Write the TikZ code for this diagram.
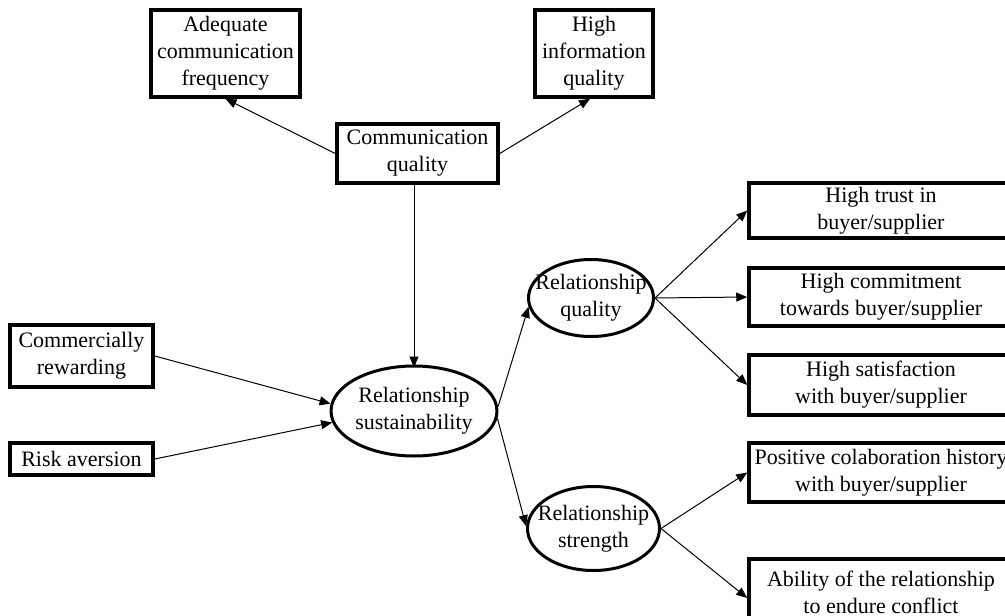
\documentclass[tikz,border=0pt]{standalone}
\usepackage{fontspec}
\setmainfont{Liberation Serif}
\usetikzlibrary{arrows.meta,shapes.geometric}
\begin{document}
\begin{tikzpicture}[x=1pt,y=-1pt,
  every node/.style={font=\fontsize{22}{27}\selectfont, align=center, inner sep=0pt},
  box/.style={draw, line width=3.5pt, rectangle},
  oval/.style={draw, line width=3pt, ellipse},
  arr/.style={line width=1pt, -{Triangle[length=11pt,width=9pt]}}]
\useasboundingbox (0,0) rectangle (1005,616);
\clip (0,0) rectangle (1005,616);
% boxes
\node[box, minimum width=149pt, minimum height=87pt] (adeq) at (225.5,53.5) {Adequate\\communication\\frequency};
\node[box, minimum width=118pt, minimum height=87pt] (hinfo) at (594,53.5) {High\\information\\quality};
\node[box, minimum width=161pt, minimum height=59pt] (cq) at (417.5,153.5) {Communication\\quality};
\node[box, minimum width=143pt, minimum height=62pt] (cr) at (81.5,356) {Commercially\\rewarding};
\node[box, minimum width=143pt, minimum height=32pt] (ra) at (81.5,459) {Risk aversion};
\node[box, minimum width=264pt, minimum height=55pt] (trust) at (881,210.5) {High trust in\\buyer/supplier};
\node[box, minimum width=264pt, minimum height=58pt] (commit) at (881,297) {High commitment\\towards buyer/supplier};
\node[box, minimum width=264pt, minimum height=60pt] (satis) at (881,385) {High satisfaction\\with buyer/supplier};
\node[box, minimum width=264pt, minimum height=59pt] (posit) at (881,472.5) {Positive colaboration history\\with buyer/supplier};
\node[box, minimum width=264pt, minimum height=66pt] (abil) at (881,592) {Ability of the relationship\\to endure conflict};
% ellipses
\node[oval, minimum width=156pt, minimum height=90pt] (rs) at (414,411) {Relationship\\sustainability};
\node[oval, minimum width=125pt, minimum height=77pt] (rq) at (591,298) {};
\node at (rq.center) {Relationship\\quality};
\node[oval, minimum width=132pt, minimum height=84pt] (rst) at (593.5,528.5) {};
\node at (rst.center) {Relationship\\strength};
% connectors
\draw[arr] (cq.west) -- (adeq.south);
\draw[arr] (cq.east) -- ([xshift=-4pt]hinfo.south);
\draw[arr] (rs.north |- cq.south) -- ([yshift=-3pt]rs.north);
\draw[arr] (cr.east) -- (rs.175);
\draw[arr] (ra.east) -- (rs.188);
\draw[arr] (rs.3) -- (rq.188);
\draw[arr] (rs.-5) -- (rst.178);
\draw[arr] (rq.east) -- (trust.west);
\draw[arr] (rq.east) -- (commit.west);
\draw[arr] (rq.east) -- (satis.west);
\draw[arr] (rst.east) -- (posit.west);
\draw[arr] (rst.east) -- ([yshift=-6pt]abil.west);
\end{tikzpicture}
\end{document}
